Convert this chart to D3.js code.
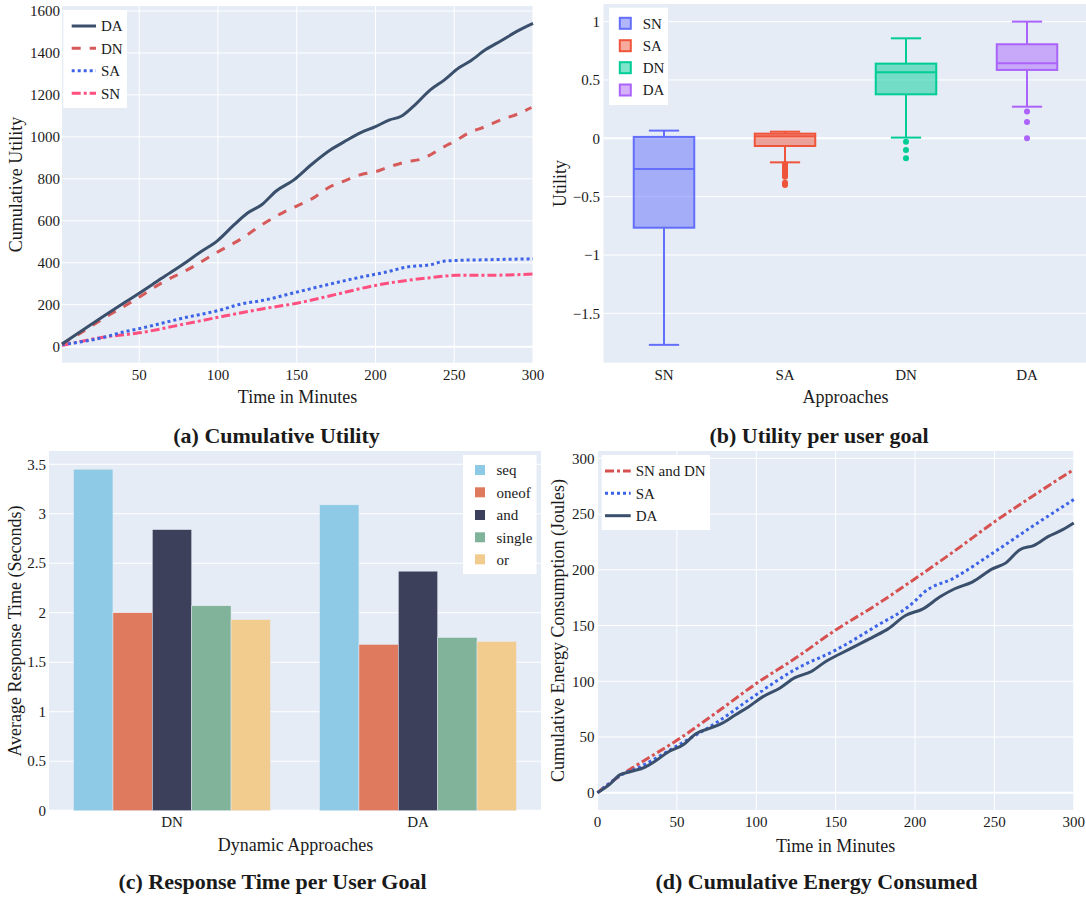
<!DOCTYPE html>
<html><head><meta charset="utf-8">
<script src="https://cdn.jsdelivr.net/npm/d3@7"></script>
<style>
body{margin:0;background:#fff}
svg text{font-family:"Liberation Serif","Times New Roman",serif;fill:#1a1a1a}
</style>
</head><body>
<svg id="c" width="1086" height="898" font-family="Liberation Serif, Times New Roman, serif"></svg>
<script>
// ---------- (a) Cumulative Utility ----------
const aTimeDA = [1,10,20,30,40,50,64,80,88,100,110,119,128,137,148,159,172,180,191,200,209,216,224,235,244,253,260,270,280,290,300];
const aValDA  = [13,58,108,158,207,255,325,404,447,507,579,638,678,742,794,866,941,976,1021,1049,1081,1097,1145,1225,1273,1329,1360,1416,1459,1504,1541];
const aTimeDN = [1,10,20,30,44,50,64,80,100,115,128,141,150,159,172,180,191,200,209,220,229,235,244,250,259,270,281,290,299];
const aValDN  = [12,52,100,147,208,236,303,364,452,515,582,638,670,702,766,789,821,834,858,882,894,915,955,978,1018,1050,1085,1108,1140];
const aTimeSA = [1,25,40,50,80,100,115,128,150,172,191,207,220,235,244,251,268,300];
const aValSA  = [10,40,70,86,140,172,204,220,260,300,332,356,380,391,408,411,414,419];
const aTimeSN = [1,27,50,80,100,128,150,172,200,220,235,251,268,300];
const aValSN  = [5,45,66,110,140,180,207,244,292,316,329,340,340,346];
const aXTicks = [50,100,150,200,250,300];
const aYTicks = [0,200,400,600,800,1000,1200,1400,1600];

// ---------- (b) Utility per user goal ----------
const bCats   = ["SN","SA","DN","DA"];
const bLowW   = [-1.77,-0.206,0.006,0.271];
const bQ1     = [-0.766,-0.066,0.377,0.586];
const bMed    = [-0.263,0.017,0.566,0.643];
const bQ3     = [0.012,0.04,0.64,0.806];
const bHighW  = [0.066,0.057,0.857,1.0];
const bOutSN  = [];
const bOutSA  = [-0.22,-0.23,-0.24,-0.25,-0.26,-0.27,-0.28,-0.29,-0.30,-0.31,-0.32,-0.33,-0.38,-0.39,-0.40];
const bOutDN  = [-0.03,-0.10,-0.17];
const bOutDA  = [0.23,0.14,0.0];
const bYTicks = [-1.5,-1,-0.5,0,0.5,1];

// ---------- (c) Response Time per User Goal ----------
const cCats   = ["DN","DA"];
const cSeries = ["seq","oneof","and","single","or"];
const cSeq    = [3.45,3.09];
const cOneof  = [2.00,1.68];
const cAnd    = [2.84,2.42];
const cSingle = [2.07,1.75];
const cOr     = [1.93,1.71];
const cYTicks = [0,0.5,1,1.5,2,2.5,3,3.5];

// ---------- (d) Cumulative Energy Consumed ----------
const dTimeSNDN = [0,8,15,25,50,75,100,125,150,175,200,225,250,275,300];
const dValSNDN  = [0,9,16,25,47,72,98,121,146,168,192,217,243,267,290];
const dTimeSA   = [0,8,15,25,50,75,100,125,150,175,200,205,225,250,275,300];
const dValSA    = [0,9,16,22,42,63,88,111,128,149,172,179,193,216,240,263];
const dTimeDA   = [0,8,14,21,30,36,45,54,62,71,78,87,95,104,115,124,135,144,152,163,174,183,194,205,216,225,236,249,257,266,275,284,293,300];
const dValDA    = [0,8,16,19,23,28,37,43,53,58,62,70,77,86,94,103,109,118,124,132,140,147,159,165,176,183,189,201,206,218,222,230,236,242];
const dXTicks = [0,50,100,150,200,250,300];
const dYTicks = [0,50,100,150,200,250,300];

// ---------- drawing ----------
const FONT = "'Liberation Serif','Times New Roman',serif";
const svg = d3.select("#c");
const BG = "#E5ECF6";
const fmt = d3.format("~g");
const TICK = 15, TITLE = 18, LEG = 15;

function txt(){ return svg.append("text").attr("font-family",FONT).attr("fill","#1a1a1a"); }
function frame(xr, yr){
  svg.append("rect").attr("x",xr[0]).attr("y",yr[0]).attr("width",xr[1]-xr[0]).attr("height",yr[1]-yr[0]).attr("fill",BG);
}
function hGrid(y, ticks, xr, labelX){
  ticks.forEach(t=>{
    svg.append("line").attr("x1",xr[0]).attr("x2",xr[1]).attr("y1",y(t)).attr("y2",y(t))
      .attr("stroke","#fff").attr("stroke-width", t===0?2:1);
    txt().attr("x",labelX).attr("y",y(t)).attr("dy","0.35em").attr("text-anchor","end")
      .attr("font-size",TICK).text(fmt(t));
  });
}
function vGrid(x, ticks, yr, labelY){
  ticks.forEach(t=>{
    svg.append("line").attr("y1",yr[0]).attr("y2",yr[1]).attr("x1",x(t)).attr("x2",x(t))
      .attr("stroke","#fff").attr("stroke-width",1);
    txt().attr("x",x(t)).attr("y",labelY).attr("text-anchor","middle").attr("font-size",TICK).text(fmt(t));
  });
}
function xTitle(s, cx, by){ txt().attr("x",cx).attr("y",by).attr("text-anchor","middle").attr("font-size",TITLE).text(s); }
function yTitle(s, bx, cy){ txt().attr("transform",`translate(${bx},${cy}) rotate(-90)`).attr("text-anchor","middle").attr("font-size",TITLE).text(s); }
function caption(s, cx, by){ txt().attr("x",cx).attr("y",by).attr("text-anchor","middle").attr("font-size",22).attr("font-weight","bold").text(s); }
function dashFor(s){ return s==="dash"?"9,9":s==="dot"?"3,3":s==="dashdot"?"9,3,3,3":null; }

// ===== (a) =====
{
  const xr=[62,533], yr=[6,362.7];
  const x=d3.scaleLinear([1,300],xr), y=d3.scaleLinear([-76.3,1623.8],[yr[1],yr[0]]);
  frame(xr,yr);
  vGrid(x,aXTicks,yr,380);
  hGrid(y,aYTicks,xr,60);
  const series=[
    {n:"DA",t:aTimeDA,v:aValDA,c:"#3a4f6b",d:"solid"},
    {n:"DN",t:aTimeDN,v:aValDN,c:"#d65a5a",d:"dash"},
    {n:"SA",t:aTimeSA,v:aValSA,c:"#3d63e6",d:"dot"},
    {n:"SN",t:aTimeSN,v:aValSN,c:"#ff4f7f",d:"dashdot"}
  ];
  const line=d3.line().x(d=>x(d[0])).y(d=>y(d[1])).curve(d3.curveMonotoneX);
  [...series].reverse().forEach(s=>{
    svg.append("path").attr("d",line(d3.zip(s.t,s.v))).attr("fill","none").attr("stroke",s.c)
      .attr("stroke-width",3).attr("stroke-dasharray",dashFor(s.d)).attr("stroke-linejoin","round");
  });
  svg.append("rect").attr("x",63.3).attr("y",10).attr("width",63.7).attr("height",98).attr("fill","#fff");
  const ly=[26,48.3,70.7,93.3];
  series.forEach((s,i)=>{
    svg.append("line").attr("x1",71.7).attr("x2",96).attr("y1",ly[i]).attr("y2",ly[i]).attr("stroke",s.c).attr("stroke-width",3).attr("stroke-dasharray",dashFor(s.d));
    txt().attr("x",101).attr("y",ly[i]).attr("dy","0.35em").attr("font-size",LEG).text(s.n);
  });
  xTitle("Time in Minutes",297.5,403);
  yTitle("Cumulative Utility",22,184.4);
  caption("(a) Cumulative Utility",276.5,443);
}

// ===== (b) =====
{
  const xr=[603.5,1087.5], yr=[4,362.7];
  const x=d3.scaleBand(bCats,xr), y=d3.scaleLinear([-1.923,1.151],[yr[1],yr[0]]);
  frame(xr,yr);
  hGrid(y,bYTicks,xr,600);
  const cols=["#636EFA","#EF553B","#00CC96","#AB63FA"];
  const outs=[bOutSN,bOutSA,bOutDN,bOutDA];
  const bw=x.bandwidth()*0.5, cw=x.bandwidth()*0.25;
  bCats.forEach((c,i)=>{
    const cx=x(c)+x.bandwidth()/2, col=cols[i];
    svg.append("line").attr("x1",cx).attr("x2",cx).attr("y1",y(bHighW[i])).attr("y2",y(bQ3[i])).attr("stroke",col).attr("stroke-width",2);
    svg.append("line").attr("x1",cx).attr("x2",cx).attr("y1",y(bQ1[i])).attr("y2",y(bLowW[i])).attr("stroke",col).attr("stroke-width",2);
    [bHighW[i],bLowW[i]].forEach(v=>svg.append("line").attr("x1",cx-cw/2).attr("x2",cx+cw/2).attr("y1",y(v)).attr("y2",y(v)).attr("stroke",col).attr("stroke-width",2));
    svg.append("rect").attr("x",cx-bw/2).attr("y",y(bQ3[i])).attr("width",bw).attr("height",y(bQ1[i])-y(bQ3[i]))
      .attr("fill",col).attr("fill-opacity",0.5).attr("stroke",col).attr("stroke-width",2);
    svg.append("line").attr("x1",cx-bw/2).attr("x2",cx+bw/2).attr("y1",y(bMed[i])).attr("y2",y(bMed[i])).attr("stroke",col).attr("stroke-width",2);
    outs[i].forEach(v=>svg.append("circle").attr("cx",cx).attr("cy",y(v)).attr("r",3).attr("fill",col));
    txt().attr("x",cx).attr("y",380).attr("text-anchor","middle").attr("font-size",TICK).text(c);
  });
  svg.append("rect").attr("x",609).attr("y",7.7).attr("width",59).attr("height",97.3).attr("fill","#fff");
  const ly=[23.3,45.7,67.7,90];
  bCats.forEach((c,i)=>{
    svg.append("rect").attr("x",619.8).attr("y",ly[i]-5.5).attr("width",11).attr("height",11)
      .attr("fill",cols[i]).attr("fill-opacity",0.5).attr("stroke",cols[i]).attr("stroke-width",2);
    txt().attr("x",642.7).attr("y",ly[i]).attr("dy","0.35em").attr("font-size",LEG).text(c);
  });
  xTitle("Approaches",845.5,403);
  yTitle("Utility",566,183.4);
  caption("(b) Utility per user goal",819,443);
}

// ===== (c) =====
{
  const xr=[49,541], yr=[451,810.7];
  const x0=d3.scaleBand(cCats,xr), y=d3.scaleLinear([0,3.634],[yr[1],yr[0]]);
  const gw=x0.bandwidth()*0.8;
  const x1=d3.scaleBand(cSeries,[0,gw]);
  frame(xr,yr);
  hGrid(y,cYTicks,xr,46);
  const vals=[cSeq,cOneof,cAnd,cSingle,cOr];
  const cols=["#8ECAE6","#E07A5F","#3D405B","#81B29A","#F2CC8F"];
  cCats.forEach((c,j)=>{
    const cx=x0(c)+x0.bandwidth()/2;
    cSeries.forEach((s,i)=>{
      svg.append("rect").attr("x",cx-gw/2+x1(s)).attr("y",y(vals[i][j])).attr("width",x1.bandwidth())
        .attr("height",y(0)-y(vals[i][j])).attr("fill",cols[i]).attr("stroke",BG).attr("stroke-width",0.5);
    });
    txt().attr("x",cx).attr("y",827).attr("text-anchor","middle").attr("font-size",TICK).text(c);
  });
  svg.append("rect").attr("x",463).attr("y",455).attr("width",73.5).attr("height",119).attr("fill","#fff");
  const ly=[470,492.3,515,537.3,559.3];
  cSeries.forEach((s,i)=>{
    svg.append("rect").attr("x",475).attr("y",ly[i]-5).attr("width",10).attr("height",10).attr("fill",cols[i]);
    txt().attr("x",496.5).attr("y",ly[i]).attr("dy","0.35em").attr("font-size",LEG).text(s);
  });
  xTitle("Dynamic Approaches",295.5,851);
  yTitle("Average Response Time (Seconds)",21,631);
  caption("(c) Response Time per User Goal",272.5,889);
}

// ===== (d) =====
{
  const xr=[597.5,1073.8], yr=[451,810];
  const x=d3.scaleLinear([0,300],xr), y=d3.scaleLinear([-15.5,306.6],[yr[1],yr[0]]);
  frame(xr,yr);
  vGrid(x,dXTicks,yr,827);
  hGrid(y,dYTicks,xr,594.5);
  const series=[
    {n:"SN and DN",t:dTimeSNDN,v:dValSNDN,c:"#d6514f",d:"dashdot"},
    {n:"SA",t:dTimeSA,v:dValSA,c:"#3d63e6",d:"dot"},
    {n:"DA",t:dTimeDA,v:dValDA,c:"#3a4f6b",d:"solid"}
  ];
  const line=d3.line().x(d=>x(d[0])).y(d=>y(d[1])).curve(d3.curveMonotoneX);
  series.forEach(s=>{
    svg.append("path").attr("d",line(d3.zip(s.t,s.v))).attr("fill","none").attr("stroke",s.c)
      .attr("stroke-width",3).attr("stroke-dasharray",dashFor(s.d)).attr("stroke-linejoin","round");
  });
  svg.append("rect").attr("x",601.7).attr("y",455).attr("width",108.3).attr("height",75).attr("fill","#fff");
  const ly=[471,493.3,515.7];
  series.forEach((s,i)=>{
    svg.append("line").attr("x1",605).attr("x2",630.7).attr("y1",ly[i]).attr("y2",ly[i]).attr("stroke",s.c).attr("stroke-width",3).attr("stroke-dasharray",dashFor(s.d));
    txt().attr("x",635.7).attr("y",ly[i]).attr("dy","0.35em").attr("font-size",LEG).text(s.n);
  });
  xTitle("Time in Minutes",835.6,852);
  yTitle("Cumulative Energy Consumption (Joules)",564,630.5);
  caption("(d) Cumulative Energy Consumed",816.5,889);
}
</script>
</body></html>
